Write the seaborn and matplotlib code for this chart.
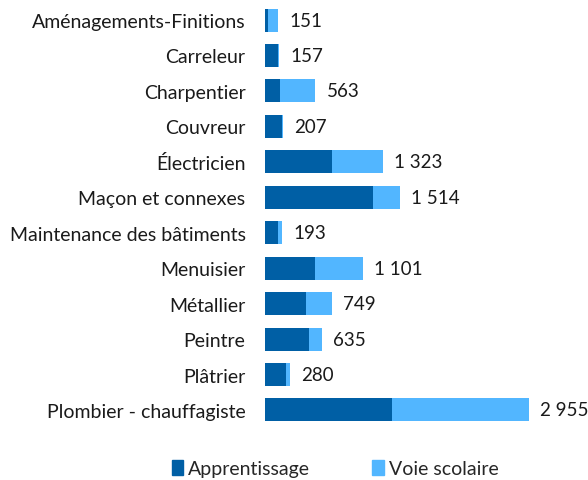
import matplotlib
matplotlib.use("Agg")
import matplotlib.pyplot as plt
import seaborn as sns
import pandas as pd
from matplotlib.patches import Patch

categories = ["Aménagements-Finitions", "Carreleur", "Charpentier", "Couvreur",
              "Électricien", "Maçon et connexes", "Maintenance des bâtiments",
              "Menuisier", "Métallier", "Peintre", "Plâtrier", "Plombier - chauffagiste"]
apprentissage = [30, 140, 170, 190, 750, 1210, 140, 555, 460, 495, 240, 1420]
totals = [151, 157, 563, 207, 1323, 1514, 193, 1101, 749, 635, 280, 2955]
voie_scolaire = [t - a for t, a in zip(totals, apprentissage)]

dark = "#005FA5"
light = "#52B6FF"

sns.set_theme(style="white")
plt.rcParams['font.family'] = ['Lato', 'DejaVu Sans']

df = pd.DataFrame({"cat": categories, "app": apprentissage, "total": totals, "vs": voie_scolaire})

fig = plt.figure(figsize=(5.88, 4.81), dpi=100)
ax = fig.add_axes([265/588, 1 - 428.7/481, 0.5, (428.7 - 3.3)/481])

sns.barplot(data=df, y="cat", x="total", color=light, width=0.65, ax=ax, orient="h",
            saturation=1, linewidth=0)
sns.barplot(data=df, y="cat", x="app", color=dark, width=0.65, ax=ax, orient="h",
            saturation=1, linewidth=0)

def fmt(v):
    return f"{v:,}".replace(",", " ")

for i, t in enumerate(totals):
    ax.annotate(fmt(t), (t, i), xytext=(8, 0), textcoords="offset points",
                va="center", ha="left", fontsize=13.5, color="#1a1a1a")

ax.set_xlim(0, 2955 * (0.5 * 588) / 264)
ax.set_xlabel("")
ax.set_ylabel("")
ax.set_xticks([])
for s in ax.spines.values():
    s.set_visible(False)
ax.tick_params(axis="y", length=0, pad=14, labelsize=14, labelcolor="#1a1a1a")

handles = [Patch(color=dark, label="Apprentissage"), Patch(color=light, label="Voie scolaire")]
fig.legend(handles=handles, loc="lower center", bbox_to_anchor=(0.57, -0.03), ncol=2,
           frameon=False, fontsize=14, handlelength=0.6, handleheight=0.8,
           handletextpad=0.25, columnspacing=3.2)

fig.savefig("out.png", dpi=100)
